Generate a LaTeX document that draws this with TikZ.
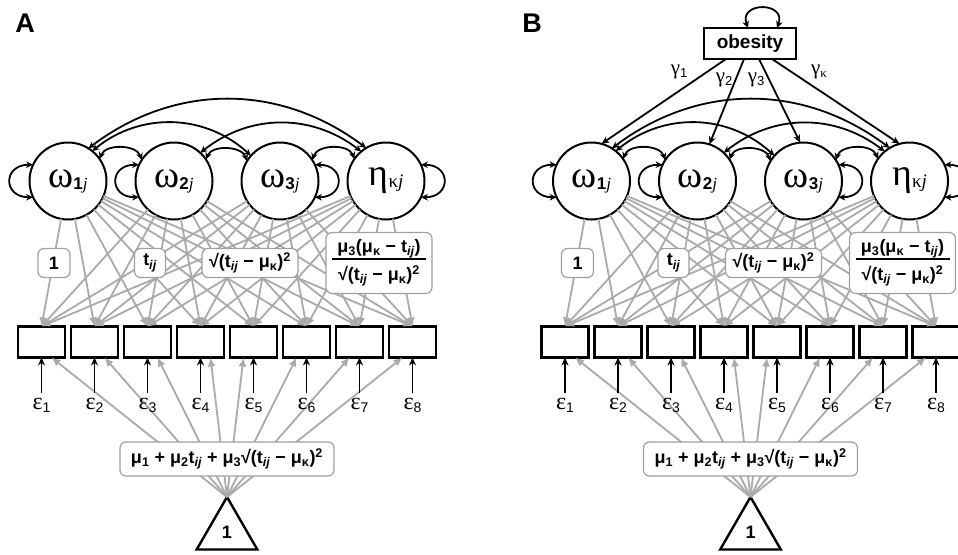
\documentclass[tikz,border=0pt]{standalone}
\usepackage{fontspec}
\setmainfont{Liberation Sans}
\newfontfamily\grk{Liberation Serif}
\usetikzlibrary{positioning, arrows.meta, shapes.geometric}

\definecolor{fangray}{RGB}{170,170,170}
\definecolor{framegray}{RGB}{160,160,160}

\begin{document}
\begin{tikzpicture}
    [x=1pt, y=-1pt,
    latent/.style={circle, draw=black, line width=2pt, fill=white, minimum size=77pt, inner sep=0pt, outer sep=0pt, font=\fontsize{17}{17}\selectfont\bfseries},
    manifest/.style={rectangle, draw=black, line width=2.6pt, minimum width=47pt, minimum height=31pt, inner sep=0pt, outer sep=0pt},
    basis/.style={rectangle, rounded corners=6pt, draw=framegray, line width=1.2pt, fill=white, minimum height=29pt, inner xsep=7pt, inner ysep=4pt, font=\fontsize{18}{20}\selectfont\bfseries},
    errlabel/.style={inner sep=5pt, font=\grk\fontsize{24}{24}\selectfont},
    coeflabel/.style={inner sep=1pt, font=\grk\fontsize{21}{21}\selectfont},
    cov/.style={{Stealth[length=7pt,width=6.5pt]}-{Stealth[length=7pt,width=6.5pt]}, line width=1.8pt},
    regress/.style={-{Stealth[length=8pt,width=7pt]}, line width=1.8pt},
    loading/.style={-{Latex[length=9pt,width=8pt]}, draw=fangray, line width=1.8pt},]

    \path[use as bounding box, fill=white] (0,0) rectangle (958,554);

    %Panel letters
    \node[font=\fontsize{27}{27}\selectfont\bfseries](labA) at (25,23){A};
    \node[font=\fontsize{27}{27}\selectfont\bfseries](labB) at (532,23){B};

    %Both panels share the growth part
    \foreach \dx in {0,523.5}{
    \begin{scope}[xshift=\dx pt]
    %Latent factors
    \node[latent](w1) at (68,181){{\grk\mdseries\fontsize{38}{38}\selectfont ω}\raisebox{-2pt}{1{\grk\mdseries\itshape j}}};
    \node[latent](w2)[right=29pt of w1]{{\grk\mdseries\fontsize{38}{38}\selectfont ω}\raisebox{-2pt}{2{\grk\mdseries\itshape j}}};
    \node[latent](w3)[right=29pt of w2]{{\grk\mdseries\fontsize{38}{38}\selectfont ω}\raisebox{-2pt}{3{\grk\mdseries\itshape j}}};
    \node[latent](w4)[right=29pt of w3]{{\grk\mdseries\fontsize{38}{38}\selectfont η}\raisebox{-2pt}{{\grk\mdseries\fontsize{19}{19}\selectfont κ\itshape j}}};

    %Repeated measures
    \node[manifest](b1) at (41.5,342){};
    \node[manifest](b2)[right=6pt of b1]{};
    \node[manifest](b3)[right=6pt of b2]{};
    \node[manifest](b4)[right=6pt of b3]{};
    \node[manifest](b5)[right=6pt of b4]{};
    \node[manifest](b6)[right=6pt of b5]{};
    \node[manifest](b7)[right=6pt of b6]{};
    \node[manifest](b8)[right=6pt of b7]{};

    %Mean structure
    \node[regular polygon, regular polygon sides=3, draw=black, line width=2.4pt, fill=white, minimum size=70pt, inner sep=0pt, outer sep=0pt, font=\fontsize{18}{18}\selectfont\bfseries](tri) at (227,532){1};

    %Loadings
    \foreach \w in {w1,w2,w3,w4}
        \foreach \b in {b1,b2,b3,b4,b5,b6,b7,b8}
            \draw[loading](\w)--(\b.north);
    \foreach \b in {b1,b2,b3,b4}
        \draw[loading](tri.corner 1)--([xshift=10pt]\b.south);
    \foreach \b in {b5,b6,b7,b8}
        \draw[loading](tri.corner 1)--([xshift=-10pt]\b.south);

    %Basis functions
    \node[basis, minimum width=32pt](f1) at (54,263){1};
    \node[basis, minimum width=31pt, inner xsep=3pt](f2) at (150,263){t\textsubscript{\itshape ij}};
    \node[basis](f3) at (250,263){√(t\textsubscript{\itshape ij} − μ\textsubscript{κ})\textsuperscript{2}};
    \node[basis, align=center, inner xsep=6pt, inner ysep=7pt](f4) at (379,263){μ\textsubscript{3}(μ\textsubscript{κ} − t\textsubscript{\itshape ij})\\[-13pt]\rule{94pt}{1.8pt}\\[1pt]√(t\textsubscript{\itshape ij} − μ\textsubscript{κ})\textsuperscript{2}};
    \node[basis, minimum height=34pt, inner xsep=11pt](mean) at (227,459){μ\textsubscript{1} + μ\textsubscript{2}t\textsubscript{\itshape ij} + μ\textsubscript{3}√(t\textsubscript{\itshape ij} − μ\textsubscript{κ})\textsuperscript{2}};

    %Residuals
    \foreach \k in {1,...,8}{
        \node[errlabel](e\k)[below=35pt of b\k]{ε\raisebox{-3pt}{\rmfamily\fontsize{14}{14}\selectfont\k}};
        \draw[regress](e\k)--(b\k);
    }

    %Variances
    \draw[cov](w1.155) to[out=180, in=180, looseness=2.4] (w1.205);
    \draw[cov](w2.155) to[out=180, in=180, looseness=2.4] (w2.205);
    \draw[cov](w3.25) to[out=0, in=0, looseness=2.4] (w3.-25);
    \draw[cov](w4.25) to[out=0, in=0, looseness=2.4] (w4.-25);

    %Covariances
    \draw[cov](w1.35) to[bend left=70] (w2.147);
    \draw[cov](w2.34) to[bend left=70] (w3.149);
    \draw[cov](w3.33) to[bend left=70] (w4.145);
    \draw[cov](w1.51) to[bend left=41] (w3.139);
    \draw[cov](w2.47) to[bend left=38] (w4.130);
    \draw[cov](w1.58) to[bend left=37] (w4.121);
    \end{scope}
    }

    %Obesity as predictor (panel B)
    \node[rectangle, draw=black, line width=2.4pt, minimum width=92pt, minimum height=31pt, inner sep=0pt, outer sep=0pt, font=\fontsize{19}{19}\selectfont\bfseries](ob) at (750,43.5){obesity};
    \draw[cov]([xshift=-2pt]ob.north) to[out=110, in=70, looseness=2.5] ([xshift=27pt]ob.north);

    \draw[regress]([xshift=-24pt]ob.south)--(w1.75);
    \draw[regress]([xshift=-6pt]ob.south)--(w2.72);
    \draw[regress]([xshift=9pt]ob.south)--(w3.95);
    \draw[regress]([xshift=22pt]ob.south)--(w4.105);

    \node[coeflabel](g1) at (679,72){γ\raisebox{-3pt}{\rmfamily\fontsize{13}{13}\selectfont 1}};
    \node[coeflabel](g2) at (724,80){γ\raisebox{-3pt}{\rmfamily\fontsize{13}{13}\selectfont 2}};
    \node[coeflabel](g3) at (756,80){γ\raisebox{-3pt}{\rmfamily\fontsize{13}{13}\selectfont 3}};
    \node[coeflabel](g4) at (819,72){γ\raisebox{-3pt}{\fontsize{13}{13}\selectfont κ}};
\end{tikzpicture}
\end{document}
